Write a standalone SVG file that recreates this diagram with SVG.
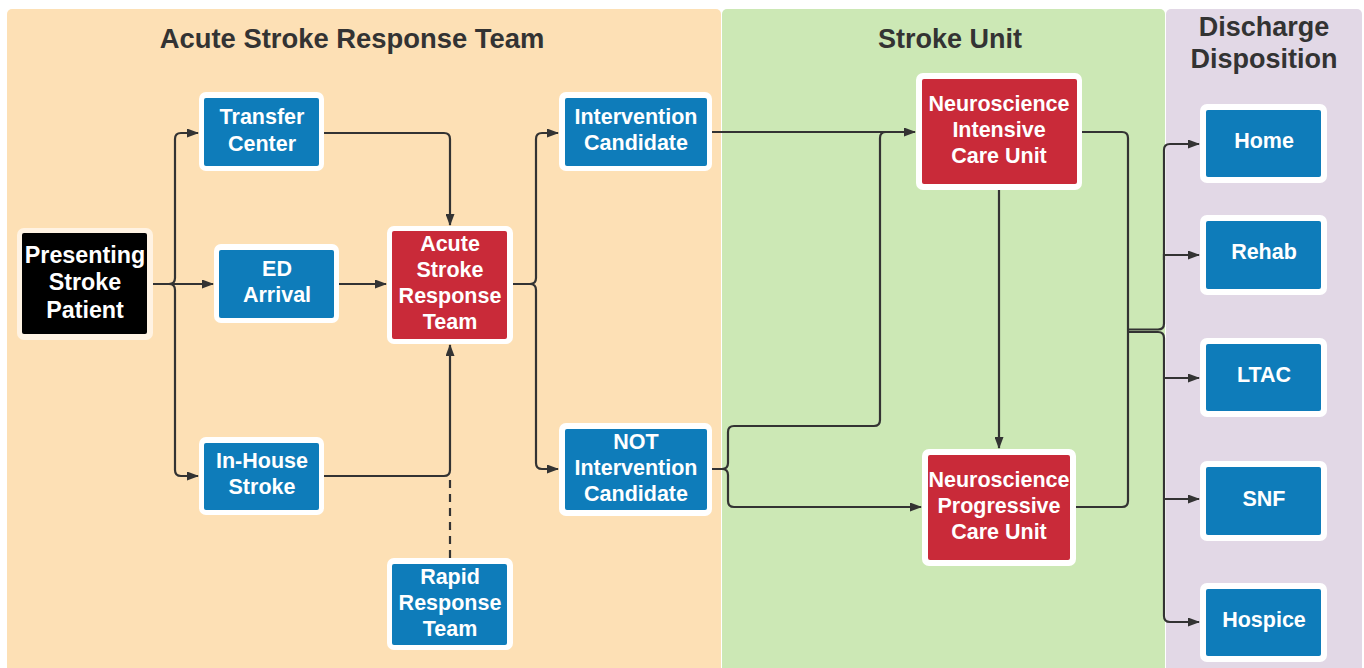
<svg xmlns="http://www.w3.org/2000/svg" width="1364" height="668" viewBox="0 0 1364 668">
<style>
.title{font-family:"Liberation Sans",Arial,sans-serif;font-weight:bold;font-size:27px;fill:#333;text-anchor:middle}
.lbl{font-family:"Liberation Sans",Arial,sans-serif;font-weight:bold;font-size:21.5px;fill:#fff;text-anchor:middle}
.big{font-size:23.3px}
.outer{fill:#fff}
.blue{fill:#0e7cba}
.red{fill:#c92a39}
.conn{fill:none;stroke:#333;stroke-width:2.2}
.dash{fill:none;stroke:#333;stroke-width:2.2;stroke-dasharray:8 6}
</style>
<defs>
<marker id="arr" viewBox="0 0 12 9" refX="11" refY="4.5" markerWidth="12" markerHeight="9" markerUnits="userSpaceOnUse" orient="auto">
<path d="M0,0 L12,4.5 L0,9 z" fill="#333"/>
</marker>
</defs>
<rect width="1364" height="668" fill="#fff"/>
<g id="lanes">
<rect x="7" y="9" width="714" height="670" rx="5" fill="#fde0b5"/>
<rect x="722" y="9" width="443" height="670" rx="5" fill="#cce8b5"/>
<rect x="1166" y="9" width="196" height="670" rx="5" fill="#e2d8e6"/>
<text class="title" x="352" y="48" style="font-size:27.4px">Acute Stroke Response Team</text>
<text class="title" x="950" y="48">Stroke Unit</text>
<text class="title" x="1264" y="36">Discharge</text>
<text class="title" x="1264" y="68">Disposition</text>
</g>
<g id="connectors">
<path class="conn" d="M153,284 H169 Q175,284 175,278 V139 Q175,133 181,133 H198" marker-end="url(#arr)"/>
<path class="conn" d="M153,284 H213" marker-end="url(#arr)"/>
<path class="conn" d="M153,284 H169 Q175,284 175,290 V470 Q175,476 181,476 H198" marker-end="url(#arr)"/>
<path class="conn" d="M324,133 H444 Q450,133 450,139 V225" marker-end="url(#arr)"/>
<path class="conn" d="M339,284 H386" marker-end="url(#arr)"/>
<path class="conn" d="M324,476 H444 Q450,476 450,470 V345" marker-end="url(#arr)"/>
<path class="dash" d="M450,558 V478"/>
<path class="conn" d="M513,284 H530 Q536,284 536,278 V139 Q536,133 542,133 H558" marker-end="url(#arr)"/>
<path class="conn" d="M513,284 H530 Q536,284 536,290 V463 Q536,469 542,469 H558" marker-end="url(#arr)"/>
<path class="conn" d="M712,132 H915" marker-end="url(#arr)"/>
<path class="conn" d="M712,469 H722 Q728,469 728,463 V432 Q728,426 734,426 H874 Q880,426 880,420 V138 Q880,132 886,132 H900"/>
<path class="conn" d="M712,469 H722 Q728,469 728,475 V501 Q728,507 734,507 H921" marker-end="url(#arr)"/>
<path class="conn" d="M999,190 V448" marker-end="url(#arr)"/>
<path class="conn" d="M1082,132 H1122 Q1128,132 1128,138 V330"/>
<path class="conn" d="M1076,507 H1122 Q1128,507 1128,501 V330"/>
<path class="conn" d="M1128,329.5 H1158 Q1164,329.5 1164,323.5 V150 Q1164,144 1170,144 H1199" marker-end="url(#arr)"/>
<path class="conn" d="M1164,260 V255 H1199" marker-end="url(#arr)"/>
<path class="conn" d="M1128,332 H1158 Q1164,332 1164,338 V616 Q1164,622 1170,622 H1199" marker-end="url(#arr)"/>
<path class="conn" d="M1164,378 H1199" marker-end="url(#arr)"/>
<path class="conn" d="M1164,499 H1199" marker-end="url(#arr)"/>
</g>
<g id="presenting">
<rect x="17" y="228" width="136" height="112" rx="7" fill="#fff3e3"/>
<rect x="22" y="233" width="125" height="101" rx="2" fill="#000"/>
<text class="lbl big" x="85" y="263">Presenting</text>
<text class="lbl big" x="85" y="290">Stroke</text>
<text class="lbl big" x="85" y="318">Patient</text>
</g>
<g id="transfer">
<rect class="outer" x="199" y="92" width="125" height="79" rx="7"/>
<rect class="blue" x="204" y="98" width="115" height="68" rx="2"/>
<text class="lbl" x="262" y="124">Transfer</text>
<text class="lbl" x="262" y="151">Center</text>
</g>
<g id="ed">
<rect class="outer" x="214" y="244" width="125" height="79" rx="7"/>
<rect class="blue" x="219" y="250" width="115" height="68" rx="2"/>
<text class="lbl" x="277" y="276">ED</text>
<text class="lbl" x="277" y="302">Arrival</text>
</g>
<g id="inhouse">
<rect class="outer" x="199" y="437" width="125" height="78" rx="7"/>
<rect class="blue" x="204" y="443" width="115" height="67" rx="2"/>
<text class="lbl" x="262" y="468">In-House</text>
<text class="lbl" x="262" y="494">Stroke</text>
</g>
<g id="asrt">
<rect class="outer" x="387" y="226" width="126" height="118" rx="7"/>
<rect class="red" x="392" y="231" width="115" height="108" rx="2"/>
<text class="lbl" x="450" y="251">Acute</text>
<text class="lbl" x="450" y="277">Stroke</text>
<text class="lbl" x="450" y="303">Response</text>
<text class="lbl" x="450" y="329">Team</text>
</g>
<g id="rapid">
<rect class="outer" x="387" y="558" width="126" height="92" rx="7"/>
<rect class="blue" x="392" y="564" width="115" height="81" rx="2"/>
<text class="lbl" x="450" y="584">Rapid</text>
<text class="lbl" x="450" y="610">Response</text>
<text class="lbl" x="450" y="636">Team</text>
</g>
<g id="intervention">
<rect class="outer" x="559" y="92" width="153" height="79" rx="7"/>
<rect class="blue" x="565" y="98" width="142" height="68" rx="2"/>
<text class="lbl" x="636" y="124">Intervention</text>
<text class="lbl" x="636" y="150">Candidate</text>
</g>
<g id="not-intervention">
<rect class="outer" x="559" y="423" width="153" height="93" rx="7"/>
<rect class="blue" x="565" y="429" width="142" height="81" rx="2"/>
<text class="lbl" x="636" y="449">NOT</text>
<text class="lbl" x="636" y="475">Intervention</text>
<text class="lbl" x="636" y="501">Candidate</text>
</g>
<g id="nicu">
<rect class="outer" x="916" y="73" width="166" height="117" rx="7"/>
<rect class="red" x="922" y="79" width="155" height="105" rx="2"/>
<text class="lbl" x="999" y="111">Neuroscience</text>
<text class="lbl" x="999" y="137">Intensive</text>
<text class="lbl" x="999" y="163">Care Unit</text>
</g>
<g id="npcu">
<rect class="outer" x="922" y="449" width="154" height="117" rx="7"/>
<rect class="red" x="928" y="455" width="142" height="105" rx="2"/>
<text class="lbl" x="999" y="487">Neuroscience</text>
<text class="lbl" x="999" y="513">Progressive</text>
<text class="lbl" x="999" y="539">Care Unit</text>
</g>
<g id="home">
<rect class="outer" x="1200" y="104" width="127" height="79" rx="7"/>
<rect class="blue" x="1206" y="110" width="115" height="67" rx="2"/>
<text class="lbl" x="1264" y="148">Home</text>
</g>
<g id="rehab">
<rect class="outer" x="1200" y="215" width="127" height="80" rx="7"/>
<rect class="blue" x="1206" y="221" width="115" height="68" rx="2"/>
<text class="lbl" x="1264" y="259">Rehab</text>
</g>
<g id="ltac">
<rect class="outer" x="1200" y="338" width="127" height="79" rx="7"/>
<rect class="blue" x="1206" y="344" width="115" height="67" rx="2"/>
<text class="lbl" x="1264" y="382">LTAC</text>
</g>
<g id="snf">
<rect class="outer" x="1200" y="461" width="127" height="80" rx="7"/>
<rect class="blue" x="1206" y="467" width="115" height="68" rx="2"/>
<text class="lbl" x="1264" y="506">SNF</text>
</g>
<g id="hospice">
<rect class="outer" x="1200" y="583" width="127" height="79" rx="7"/>
<rect class="blue" x="1206" y="589" width="115" height="67" rx="2"/>
<text class="lbl" x="1264" y="627">Hospice</text>
</g>
</svg>
